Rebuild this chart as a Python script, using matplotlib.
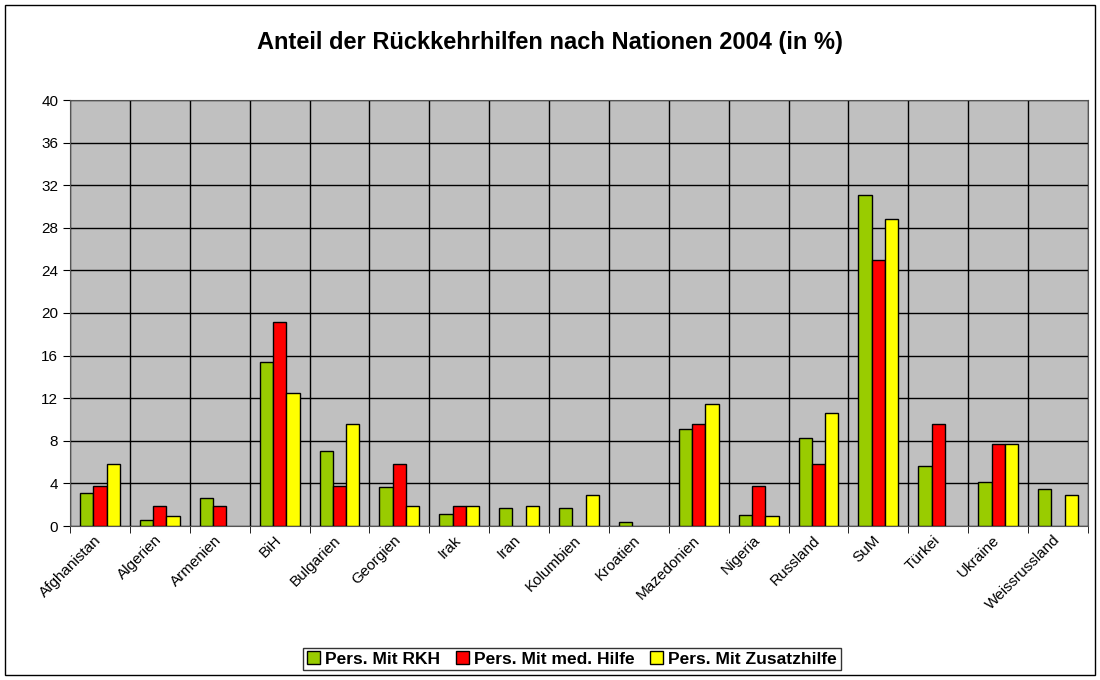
import numpy as np
import matplotlib.pyplot as plt
import matplotlib.transforms as mtransforms
from matplotlib.patches import Rectangle

plt.rcParams['font.family'] = ['Liberation Sans', 'DejaVu Sans']

nationen = ["Afghanistan", "Algerien", "Armenien", "BiH", "Bulgarien", "Georgien",
            "Irak", "Iran", "Kolumbien", "Kroatien", "Mazedonien", "Nigeria",
            "Russland", "SuM", "Türkei", "Ukraine", "Weissrussland"]
rkh = [3.1, 0.6, 2.6, 15.4, 7.0, 3.7, 1.1, 1.7, 1.7, 0.4, 9.1, 1.0, 8.3, 31.1, 5.6, 4.1, 3.5]
med_hilfe = [3.8, 1.9, 1.9, 19.2, 3.8, 5.8, 1.9, 0, 0, 0, 9.6, 3.8, 5.8, 25.0, 9.6, 7.7, 0]
zusatzhilfe = [5.8, 0.9, 0, 12.5, 9.6, 1.9, 1.9, 1.9, 2.9, 0, 11.5, 0.9, 10.6, 28.8, 0, 7.7, 2.9]
serien = ["Pers. Mit RKH", "Pers. Mit med. Hilfe", "Pers. Mit Zusatzhilfe"]
farben = ["#99CC00", "#FF0000", "#FFFF00"]

fig = plt.figure(figsize=(11, 6.8), dpi=100)
ax = fig.add_axes([70 / 1100, 1 - 526 / 680, 1018 / 1100, 426 / 680])

# Rahmen um das ganze Diagramm
fig.patches.append(Rectangle((5 / 1100, 5 / 680), 1090 / 1100, 670 / 680,
                             transform=fig.transFigure, fill=False,
                             edgecolor="black", linewidth=1))

x = np.arange(len(nationen))
w = 0.222
for i, (werte, name, farbe) in enumerate(zip([rkh, med_hilfe, zusatzhilfe], serien, farben)):
    werte = np.array(werte, dtype=float)
    werte[werte == 0] = np.nan  # leere Werte nicht zeichnen
    ax.bar(x + (i - 1) * w, werte, width=w, color=farbe, edgecolor="black",
           linewidth=1, label=name, zorder=3)

ax.set_facecolor("#C0C0C0")
ax.set_xlim(-0.5, len(nationen) - 0.5)
ax.set_ylim(0, 40)
ax.set_yticks(range(0, 41, 4))
ax.set_xticks(x)
ax.set_xticklabels(nationen, rotation=45, ha="right", rotation_mode="anchor", fontsize=11)
ax.set_xticks(np.arange(-0.5, len(nationen), 1), minor=True)
ax.tick_params(axis="x", which="major", length=0, pad=5)
ax.tick_params(axis="x", which="minor", length=5)
ax.tick_params(axis="y", labelsize=11, length=5)
# Beschriftungen etwas nach links schieben
shift = mtransforms.ScaledTranslation(-4 / 72, 0, fig.dpi_scale_trans)
for lbl in ax.get_xticklabels():
    lbl.set_transform(lbl.get_transform() + shift)
ax.grid(axis="y", which="major", color="black", linewidth=1, zorder=1)
ax.grid(axis="x", which="minor", color="black", linewidth=1, zorder=1)
ax.set_axisbelow(True)
for s in ax.spines.values():
    s.set_color("#555555")

fig.text(0.5, 1 - 42 / 680, "Anteil der Rückkehrhilfen nach Nationen 2004 (in %)",
         ha="center", va="center", fontsize=17, fontweight="bold")

leg = fig.legend(loc="center", bbox_to_anchor=(572 / 1100, 1 - 659 / 680), ncol=3,
                 frameon=True, fancybox=False, edgecolor="black",
                 prop={"weight": "bold", "size": 12.5}, handlelength=0.75,
                 handleheight=0.75, handletextpad=0.3, columnspacing=0.9,
                 borderpad=0.2, borderaxespad=0)
leg.get_frame().set_linewidth(1)

fig.savefig("out.png", dpi=100)
